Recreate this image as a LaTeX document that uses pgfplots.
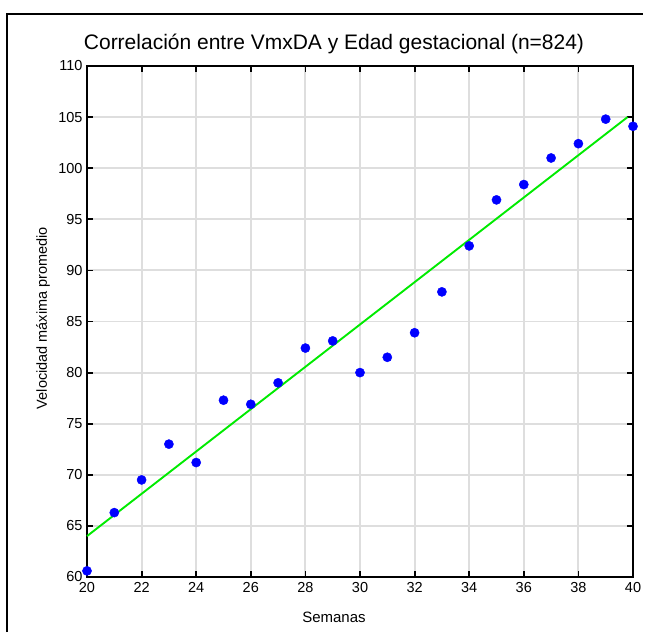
\documentclass[border=0pt]{standalone}
\usepackage{fontspec}
\setmainfont{Liberation Sans}
\usepackage{pgfplots}
\pgfplotsset{compat=1.18}
\definecolor{fitgreen}{RGB}{0,235,0}
\definecolor{dotblue}{RGB}{0,0,255}
\definecolor{gridgray}{RGB}{222,222,222}

\begin{document}
\begin{tikzpicture}
  % page = 645 x 632, axis box lower-left at (0,0)
  \useasboundingbox (-87pt,-55pt) rectangle (558pt,577pt);
  \fill[white] (-87pt,-55pt) rectangle (558pt,577pt);
  % outer figure frame, only its left and top edges fall on the page
  \draw[line width=2.6pt] (-80pt,-55pt) -- (-80pt,563pt) -- (556pt,563pt);
  \begin{axis}[
    at={(0,0)}, anchor=south west,
    scale only axis, width=546pt, height=511pt,
    xmin=20, xmax=40, ymin=60, ymax=110,
    xtick={20,22,...,40}, ytick={60,65,...,110},
    xtick pos=both, ytick pos=both,
    xticklabel pos=lower, yticklabel pos=left,
    tick align=inside,
    major tick length=6pt,
    tick style={line width=1.8pt, black},
    axis line style={line width=2.2pt, black},
    grid=major,
    major grid style={line width=1.9pt, gridgray},
    ticklabel style={font=\fontsize{14.5}{14.5}\selectfont},
    /pgf/number format/assume math mode=true,
    xticklabel style={yshift=-2pt},
    yticklabel style={xshift=-1pt},
    clip=false,
  ]
    \addplot[fitgreen, line width=1.9pt] coordinates {(20,64.0) (39.8,105.0)};
    \addplot[dotblue, only marks, mark=*, mark size=4.6pt] coordinates {
      (20,60.6) (21,66.3) (22,69.5) (23,73.0) (24,71.2)
      (25,77.3) (26,76.9) (27,79.0) (28,82.4) (29,83.1)
      (30,80.0) (31,81.5) (32,83.9) (33,87.9) (34,92.4)
      (35,96.9) (36,98.4) (37,101.0) (38,102.4) (39,104.8)
      (40,104.1)
    };
  \end{axis}
  \node[anchor=base, font=\fontsize{21}{21}\selectfont] at (247pt,527pt)
    {Correlación entre VmxDA y Edad gestacional (n=824)};
  \node[anchor=base, font=\fontsize{15}{15}\selectfont] at (247pt,-45pt) {Semanas};
  \node[rotate=90, font=\fontsize{14.5}{14.5}\selectfont] at (-44pt,259pt)
    {Velocidad máxima promedio};
\end{tikzpicture}
\end{document}
